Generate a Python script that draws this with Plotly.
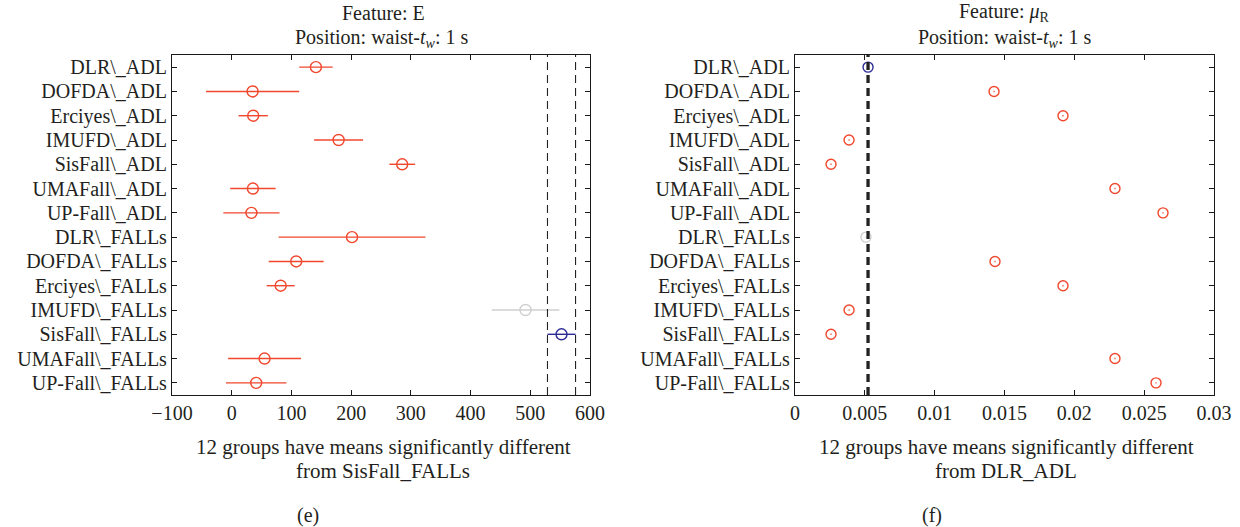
import plotly.graph_objects as go

groups = ["DLR\\_ADL", "DOFDA\\_ADL", "Erciyes\\_ADL", "IMUFD\\_ADL", "SisFall\\_ADL",
          "UMAFall\\_ADL", "UP-Fall\\_ADL", "DLR\\_FALLs", "DOFDA\\_FALLs", "Erciyes\\_FALLs",
          "IMUFD\\_FALLs", "SisFall\\_FALLs", "UMAFall\\_FALLs", "UP-Fall\\_FALLs"]

# Panel (e): feature E
e_mean = [141, 35, 36, 179, 285.5, 35.5, 33, 201.5, 108, 82, 492, 552.3, 55, 41]
e_half = [28, 78, 24.5, 41, 21.5, 38, 47, 123, 46, 23.5, 56.6, 23.5, 61, 50.7]
e_status = ["r", "r", "r", "r", "r", "r", "r", "r", "r", "r", "g", "b", "r", "r"]
e_ref = 11
e_xticks = [-100, 0, 100, 200, 300, 400, 500, 600]

# Panel (f): feature mu_R
f_mean = [0.00523, 0.01425, 0.01919, 0.00387, 0.00258, 0.02291, 0.02635,
          0.00508, 0.01432, 0.01919, 0.00387, 0.00258, 0.02291, 0.02585]
f_half = [0.00004] * 14
f_status = ["b", "r", "r", "r", "r", "r", "r", "g", "r", "r", "r", "r", "r", "r"]
f_ref = 0
f_xticks = [0, 0.005, 0.01, 0.015, 0.02, 0.025, 0.03]
f_xticklabels = ["0", "0.005", "0.01", "0.015", "0.02", "0.025", "0.03"]

COLORS = {"r": "#f0472d", "b": "#2c2c96", "g": "#cfcfcf"}
FONT = "Liberation Serif"
TXT = "#231f20"
FS = 20

W, H = 1240, 527
fig = go.Figure()

ypos = list(range(1, len(groups) + 1))

def add_panel(means, halves, status, xa, ya, msize):
    for key in ["g", "r", "b"]:
        idx = [i for i, s in enumerate(status) if s == key]
        if not idx:
            continue
        fig.add_trace(go.Scatter(
            x=[means[i] for i in idx], y=[ypos[i] for i in idx],
            mode="markers", xaxis=xa, yaxis=ya, showlegend=False,
            marker=dict(symbol="circle-open", size=msize, color=COLORS[key],
                        line=dict(width=1.4, color=COLORS[key])),
            error_x=dict(type="data", array=[halves[i] for i in idx], width=0,
                         color=COLORS[key], thickness=1.4)))

add_panel(e_mean, e_half, e_status, "x", "y", 11)
add_panel(f_mean, f_half, f_status, "x2", "y2", 10)

# reference interval lines
for xv in [e_mean[e_ref] - e_half[e_ref], e_mean[e_ref] + e_half[e_ref]]:
    fig.add_shape(type="line", xref="x", yref="y domain", x0=xv, x1=xv, y0=0, y1=1,
                  line=dict(color="#222222", width=1.1, dash="8px,5px"))
for xv in [f_mean[f_ref] - f_half[f_ref], f_mean[f_ref] + f_half[f_ref]]:
    fig.add_shape(type="line", xref="x2", yref="y2 domain", x0=xv, x1=xv, y0=0, y1=1,
                  line=dict(color="#222222", width=2.2, dash="8px,5px"))

yd = [1 - 395 / H, 1 - 55 / H]
axcommon = dict(showline=True, linecolor="#1a1a1a", linewidth=1.2, mirror="ticks",
                ticks="inside", ticklen=5, tickcolor="#1a1a1a", showgrid=False,
                zeroline=False, automargin=False,
                tickfont=dict(family=FONT, size=FS, color=TXT))

fig.update_layout(
    width=W, height=H, margin=dict(l=0, r=0, t=0, b=0, autoexpand=False),
    paper_bgcolor="white", plot_bgcolor="white",
    xaxis=dict(domain=[172 / W, 590 / W], range=[-100, 600], tickvals=e_xticks,
               anchor="y", **axcommon),
    yaxis=dict(domain=yd, range=[14.5, 0.5], tickvals=ypos, ticktext=groups,
               anchor="x", **axcommon),
    xaxis2=dict(domain=[795 / W, 1214 / W], range=[0, 0.03], tickvals=f_xticks,
                ticktext=f_xticklabels, anchor="y2", **axcommon),
    yaxis2=dict(domain=yd, range=[14.5, 0.5], tickvals=ypos, ticktext=groups,
                anchor="x2", **axcommon),
)

def ann(text, x, y, size=FS):
    fig.add_annotation(text=text, x=x / W, y=1 - y / H, xref="paper", yref="paper",
                       showarrow=False, xanchor="center", yanchor="middle",
                       font=dict(family=FONT, size=size, color=TXT))

ann("Feature: E", 383, 13, 20)
ann("Position: waist-<i>t</i><sub><i>w</i></sub>: 1 s", 381, 38, 20)
ann("Feature: <i>μ</i><sub>R</sub>", 1005, 13, 20)
ann("Position: waist-<i>t</i><sub><i>w</i></sub>: 1 s", 1004, 38, 20)
ann("12 groups have means significantly different", 383, 447, 21)
ann("from SisFall_FALLs", 383, 471, 21)
ann("12 groups have means significantly different", 1006, 447, 21)
ann("from DLR_ADL", 1006, 471, 21)
ann("(e)", 308, 515)
ann("(f)", 932, 515)

fig.write_html("out.html", config={"displayModeBar": False},
               post_script="document.body.style.margin='0';document.body.style.overflow='hidden';")
